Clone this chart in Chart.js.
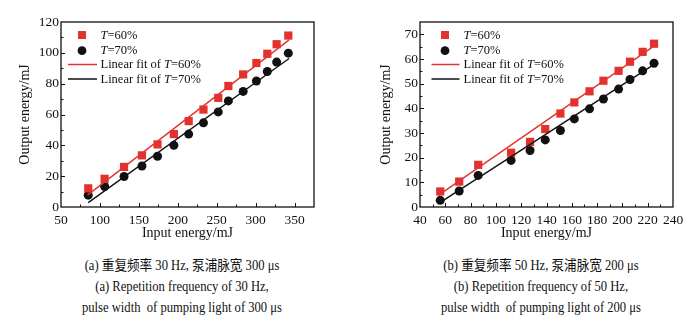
<!DOCTYPE html>
<html>
<head>
<meta charset="utf-8">
<script src="https://cdn.jsdelivr.net/npm/chart.js@4.4.1/dist/chart.umd.min.js"></script>
<style>
  html, body { margin: 0; padding: 0; background: #fff; }
  body { width: 697px; height: 322px; position: relative; overflow: hidden; }
  canvas { position: absolute; top: 0; }
  #chartA { left: 0; }
  #chartB { left: 350px; }
  .cap {
    position: absolute; top: 255px; width: 300px; text-align: center;
    font: 14px "Liberation Serif", "Noto Sans CJK SC", serif; line-height: 21px; color: #111;
    transform: scaleX(0.9);
  }
  #capA { left: 32px; }
  #capB { left: 391px; }
</style>
</head>
<body>
<canvas id="chartA" width="345" height="245"></canvas>
<canvas id="chartB" width="347" height="245"></canvas>
<div class="cap" id="capA">(a) 重复频率 30 Hz, 泵浦脉宽 300 μs<br>(a) Repetition frequency of 30 Hz,<br>pulse width&nbsp; of pumping light of 300 μs</div>
<div class="cap" id="capB">(b) 重复频率 50 Hz, 泵浦脉宽 200 μs<br>(b) Repetition frequency of 50 Hz,<br>pulse width&nbsp; of pumping light of 200 μs</div>
<script>
// (a) 30 Hz, 300 us pump
const inA = [85, 106, 131, 154, 174, 195, 214, 233, 252, 265, 284, 301, 315, 327, 342];
const outA60 = [12.1, 18.3, 26.0, 33.5, 40.6, 47.3, 55.7, 63.2, 70.8, 78.5, 86.0, 93.4, 99.4, 105.6, 111.2];
const outA70 = [7.7, 13.3, 19.8, 26.6, 32.9, 40.0, 47.3, 54.6, 61.7, 68.8, 75.0, 81.7, 87.9, 94.0, 99.8];
const fitA60 = [[84, 7.7], [343, 108.4]];
const fitA70 = [[85, 2.8], [343, 96.3]];

// (b) 50 Hz, 200 us pump
const inB = [56, 71, 86, 112, 127, 139, 151, 162, 174, 185, 197, 206, 216, 225];
const outB60 = [6.3, 10.3, 17.1, 22.0, 26.4, 31.6, 37.9, 42.4, 46.9, 51.2, 55.2, 58.9, 62.9, 66.2];
const outB70 = [2.7, 6.5, 12.8, 18.9, 22.9, 27.2, 31.0, 35.7, 39.8, 43.8, 47.8, 51.7, 55.2, 58.3];
const fitB60 = [[54.5, 4.7], [226, 65.6]];
const fitB70 = [[54.5, 1.4], [226, 58.1]];

const labels = ['T=60%', 'T=70%', 'Linear fit of T=60%', 'Linear fit of T=70%'];

const RED = '#e3322d';
const BLACK = '#111111';
const FONT = '"Liberation Serif", "Times New Roman", serif';

const pts = (xs, ys) => xs.map((x, i) => ({ x: x, y: ys[i] }));
const seg = p => p.map(([x, y]) => ({ x: x, y: y }));

// frame round the plot plus inward major/minor ticks
const frameTicks = {
  id: 'frameTicks',
  afterDatasetsDraw(chart, args, o) {
    const { ctx, chartArea: a, scales: { x, y } } = chart;
    ctx.save();
    ctx.strokeStyle = BLACK;
    ctx.lineWidth = 1;
    ctx.beginPath();
    const isMajor = (v, step) => Math.abs(v / step - Math.round(v / step)) < 1e-6;
    for (let v = x.min + o.xMinor; v < x.max - 1e-6; v += o.xMinor) {
      const px = Math.round(x.getPixelForValue(v)) + 0.5;
      const len = isMajor(v, o.xMajor) ? 4 : 2.5;
      ctx.moveTo(px, a.bottom);
      ctx.lineTo(px, a.bottom - len);
    }
    for (let v = y.min + o.yMinor; v < y.max - 1e-6; v += o.yMinor) {
      const py = Math.round(y.getPixelForValue(v)) + 0.5;
      const len = isMajor(v, o.yMajor) ? 4 : 2.5;
      ctx.moveTo(a.left, py);
      ctx.lineTo(a.left + len, py);
    }
    ctx.stroke();
    ctx.lineWidth = 1.3;
    ctx.strokeRect(a.left, a.top, a.right - a.left, a.bottom - a.top);
    ctx.restore();
  }
};

// legend in the upper-left corner, with italic T
const keyBox = {
  id: 'keyBox',
  afterDraw(chart, args, o) {
    const { ctx, chartArea: a } = chart;
    ctx.save();
    ctx.textBaseline = 'middle';
    chart.data.datasets.forEach((ds, i) => {
      const ry = a.top + o.rows[i];
      if (ds.showLine) {
        ctx.strokeStyle = ds.borderColor;
        ctx.lineWidth = 1.5;
        ctx.beginPath();
        ctx.moveTo(a.left + o.lineFrom, ry);
        ctx.lineTo(a.left + o.lineTo, ry);
        ctx.stroke();
      } else if (ds.pointStyle === 'rect') {
        ctx.fillStyle = ds.backgroundColor;
        ctx.fillRect(a.left + o.mark - 4, ry - 4, 8, 8);
      } else {
        ctx.fillStyle = ds.backgroundColor;
        ctx.beginPath();
        ctx.arc(a.left + o.mark, ry, 4.4, 0, Math.PI * 2);
        ctx.fill();
      }
      const k = ds.label.indexOf('T');
      const parts = [
        [ds.label.slice(0, k), 'normal'],
        ['T', 'italic'],
        [ds.label.slice(k + 1), 'normal']
      ];
      let tx = a.left + o.text;
      ctx.fillStyle = BLACK;
      parts.forEach(([s, st]) => {
        ctx.font = st + ' 12.5px ' + FONT;
        ctx.fillText(s, tx, ry + 0.5);
        tx += ctx.measureText(s).width;
      });
    });
    ctx.restore();
  }
};

function makeDatasets(xs, y60, y70, f60, f70) {
  return [
    { label: labels[0], data: pts(xs, y60), pointStyle: 'rect', pointRadius: 5.8,
      backgroundColor: RED, borderWidth: 0, order: 3 },
    { label: labels[1], data: pts(xs, y70), pointStyle: 'circle', pointRadius: 4.5,
      backgroundColor: BLACK, borderWidth: 0, order: 4 },
    { label: labels[2], data: seg(f60), showLine: true, pointRadius: 0,
      borderColor: RED, borderWidth: 1.4, order: 1 },
    { label: labels[3], data: seg(f70), showLine: true, pointRadius: 0,
      borderColor: BLACK, borderWidth: 1.4, order: 2 }
  ];
}

// ticks only at whole multiples of the step, never at an odd max
const stepTicks = step => s => {
  const out = [];
  for (let v = Math.ceil(s.min / step) * step; v <= s.max + 1e-9; v += step) out.push({ value: v });
  s.ticks = out;
};

function makeChart(id, cfg) {
  return new Chart(document.getElementById(id), {
    type: 'scatter',
    data: { datasets: cfg.datasets },
    plugins: [frameTicks, keyBox],
    options: {
      responsive: false,
      animation: false,
      devicePixelRatio: 1,
      layout: { padding: { left: 0, top: 22, right: cfg.padRight, bottom: 0 } },
      plugins: {
        legend: { display: false },
        tooltip: { enabled: false },
        frameTicks: cfg.ticks,
        keyBox: cfg.key
      },
      scales: {
        x: {
          type: 'linear', min: cfg.x[0], max: cfg.x[1],
          grid: { display: false, drawTicks: false },
          border: { display: false },
          afterBuildTicks: stepTicks(cfg.x[2]),
          afterFit: s => { s.height = 38; },
          ticks: { padding: 5, color: BLACK, autoSkip: false,
                   font: { family: FONT, size: 13.5 }, maxRotation: 0 },
          title: { display: true, text: 'Input energy/mJ', color: BLACK,
                   font: { family: FONT, size: 14 }, padding: { top: 0, bottom: 3.5 } }
        },
        y: {
          type: 'linear', min: cfg.y[0], max: cfg.y[1],
          grid: { display: false, drawTicks: false },
          border: { display: false },
          afterBuildTicks: stepTicks(cfg.y[2]),
          afterFit: s => { s.width = cfg.yWidth; },
          ticks: { padding: 2, color: BLACK, autoSkip: false,
                   font: { family: FONT, size: 13.5 } },
          title: { display: true, text: 'Output energy/mJ', color: BLACK,
                   font: { family: FONT, size: 14 }, padding: { top: cfg.yTitlePad, bottom: 0 } }
        }
      }
    }
  });
}

makeChart('chartA', {
  datasets: makeDatasets(inA, outA60, outA70, fitA60, fitA70),
  x: [50, 375, 50], y: [0, 120, 20],
  yWidth: 61, padRight: 31, yTitlePad: 16.5,
  ticks: { xMajor: 50, xMinor: 25, yMajor: 20, yMinor: 10 },
  key: { rows: [13, 28.7, 42.5, 57], mark: 21, lineFrom: 7, lineTo: 36, text: 39.5 }
});

makeChart('chartB', {
  datasets: makeDatasets(inB, outB60, outB70, fitB60, fitB70),
  x: [40, 240, 20], y: [0, 75, 10],
  yWidth: 70, padRight: 24, yTitlePad: 27.5,
  ticks: { xMajor: 20, xMinor: 10, yMajor: 10, yMinor: 5 },
  key: { rows: [13, 28.7, 42.5, 57], mark: 25, lineFrom: 11.5, lineTo: 39.5, text: 43.5 }
});
</script>
</body>
</html>
